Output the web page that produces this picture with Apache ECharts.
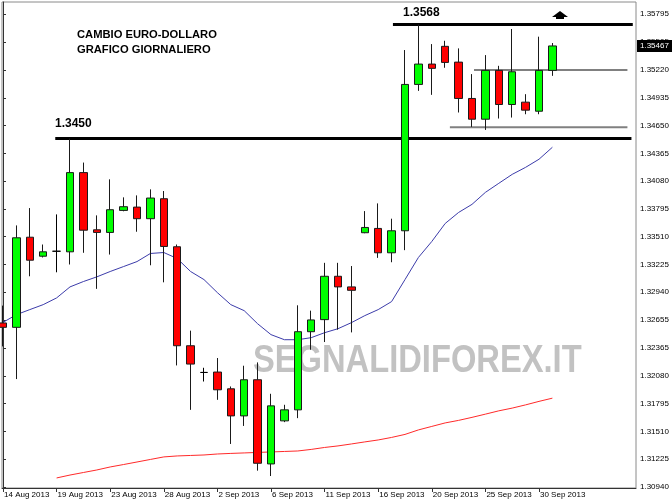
<!DOCTYPE html>
<html>
<head>
<meta charset="utf-8">
<script src="https://cdn.jsdelivr.net/npm/echarts@6/dist/echarts.min.js"></script>
<style>html,body{margin:0;padding:0;background:#fff;}#c{width:672px;height:504px;}</style>
</head>
<body>
<div id="c"></div>
<script>
const dates = ['14 Aug 2013','15 Aug 2013','16 Aug 2013','18 Aug 2013','19 Aug 2013','20 Aug 2013','21 Aug 2013','22 Aug 2013','23 Aug 2013','25 Aug 2013','26 Aug 2013','27 Aug 2013','28 Aug 2013','29 Aug 2013','30 Aug 2013','1 Sep 2013','2 Sep 2013','3 Sep 2013','4 Sep 2013','5 Sep 2013','6 Sep 2013','8 Sep 2013','9 Sep 2013','10 Sep 2013','11 Sep 2013','12 Sep 2013','13 Sep 2013','15 Sep 2013','16 Sep 2013','17 Sep 2013','18 Sep 2013','19 Sep 2013','20 Sep 2013','22 Sep 2013','23 Sep 2013','24 Sep 2013','25 Sep 2013','26 Sep 2013','27 Sep 2013','29 Sep 2013','30 Sep 2013','1 Oct 2013'];
const opens  = [1.32624,1.32579,1.33504,1.33309,1.33360,1.33354,1.34167,1.33580,1.33553,1.33779,1.33813,1.33694,1.33899,1.33406,1.32390,1.32116,1.32120,1.31948,1.31670,1.32041,1.31177,1.31619,1.31732,1.32534,1.32658,1.33103,1.32994,1.33550,1.33594,1.33344,1.33570,1.35072,1.35281,1.35463,1.35301,1.34928,1.34715,1.35216,1.34866,1.34890,1.34797,1.35216];
const closes = [1.32579,1.33498,1.33268,1.33354,1.33360,1.34167,1.33576,1.33553,1.33786,1.33817,1.33694,1.33906,1.33409,1.32390,1.32202,1.32116,1.31938,1.31670,1.32041,1.31184,1.31773,1.31732,1.32534,1.32655,1.33103,1.32994,1.32959,1.33604,1.33344,1.33570,1.35072,1.35281,1.35237,1.35298,1.34928,1.34715,1.35216,1.34866,1.35202,1.34808,1.35216,1.35467];
const lows   = [1.32383,1.32048,1.33103,1.33296,1.33144,1.33224,1.33344,1.32974,1.33326,1.33770,1.33560,1.33216,1.33041,1.32188,1.31732,1.32023,1.31835,1.31382,1.31567,1.31108,1.31053,1.31606,1.31647,1.32349,1.32428,1.32555,1.32527,1.33545,1.33292,1.33247,1.33371,1.35006,1.34965,1.35243,1.34784,1.34636,1.34605,1.34722,1.34732,1.34766,1.34766,1.35160];
const highs  = [1.32802,1.33625,1.33803,1.33429,1.33738,1.34516,1.34270,1.33728,1.34098,1.33913,1.33933,1.33995,1.33978,1.33429,1.32545,1.32164,1.32264,1.31972,1.32185,1.32219,1.31897,1.31784,1.32805,1.32750,1.33241,1.33241,1.33208,1.33772,1.33851,1.33694,1.35425,1.35687,1.35486,1.35520,1.35442,1.35178,1.35373,1.35263,1.35641,1.34972,1.35562,1.35497];
const maFast = [1.32630,1.32709,1.32761,1.32812,1.32881,1.32994,1.33049,1.33097,1.33152,1.33203,1.33254,1.33337,1.33347,1.33285,1.33152,1.33069,1.32935,1.32812,1.32750,1.32616,1.32504,1.32452,1.32452,1.32473,1.32524,1.32565,1.32627,1.32699,1.32761,1.32843,1.33069,1.33296,1.33460,1.33645,1.33758,1.33841,1.33964,1.34057,1.34149,1.34221,1.34304,1.34427];
const maSlow = [null,null,null,null,1.31033,1.31063,1.31089,1.31115,1.31146,1.31171,1.31197,1.31223,1.31249,1.31259,1.31264,1.31269,1.31279,1.31285,1.31290,1.31295,1.31300,1.31305,1.31310,1.31326,1.31346,1.31362,1.31382,1.31403,1.31423,1.31449,1.31480,1.31526,1.31562,1.31598,1.31624,1.31655,1.31688,1.31722,1.31750,1.31783,1.31819,1.31852];
const yTickLabels = [1.30940,1.31225,1.31510,1.31795,1.32080,1.32365,1.32655,1.32940,1.33225,1.33510,1.33795,1.34080,1.34365,1.34650,1.34935,1.35220,1.35505,1.35795];
const xTickLabels = ['14 Aug 2013','19 Aug 2013','23 Aug 2013','28 Aug 2013','2 Sep 2013','6 Sep 2013','11 Sep 2013','16 Sep 2013','20 Sep 2013','25 Sep 2013','30 Sep 2013'];
// horizontal levels: price, from bar, to bar
const levelPrices = [1.35687, 1.34518, 1.35220, 1.34633];
const levelFrom   = [29.1, 3.9, 35.15, 33.35];
const levelTo     = [47.0, 46.9, 46.6, 46.6];
const lastPrice = 1.35467;

const xTickIdx = xTickLabels.map(l => dates.indexOf(l));
const candleData = dates.map((d, i) => [i, opens[i], closes[i], lows[i], highs[i]]);
const levelStyles = [
  {color:'#000', width:3}, {color:'#000', width:3},
  {color:'#808080', width:2}, {color:'#808080', width:2}
];
const levelSeries = levelPrices.map((p, k) => ({
  type:'line', silent:true, symbol:'none', z:3,
  lineStyle: levelStyles[k],
  data: [[levelFrom[k], p], [levelTo[k], p]]
}));

const chart = echarts.init(document.getElementById('c'), null, {renderer:'canvas'});
const font = 'Liberation Sans';
chart.setOption({
  animation:false,
  backgroundColor:'#fff',
  grid:{left:2, right:36, top:2, bottom:16, show:true, borderColor:'#8a8a8a', borderWidth:1},
  xAxis:{
    type:'value', min:-0.075, max:47.24,
    splitLine:{show:false},
    axisLine:{onZero:false, lineStyle:{color:'#333', width:1}},
    axisTick:{show:true, customValues:xTickIdx, length:4, lineStyle:{color:'#333'}},
    axisLabel:{customValues:xTickIdx, formatter:(v)=>dates[Math.round(v)], align:'left', margin:3, fontSize:8, fontFamily:font, color:'#000', padding:[0,0,0,1]}
  },
  yAxis:{
    type:'value', position:'right', min:1.30930, max:1.35918, scale:true,
    splitLine:{show:false},
    axisLine:{show:true, lineStyle:{color:'#333', width:1}},
    axisTick:{show:true, customValues:yTickLabels, length:3, lineStyle:{color:'#333'}},
    axisLabel:{customValues:yTickLabels, formatter:(v)=>v.toFixed(5), margin:4, fontSize:8, fontFamily:font, color:'#000'}
  },
  series:[
    {type:'line', name:'MA fast', data:dates.map((d,i)=>[i, maFast[i]]), symbol:'none', z:2, lineStyle:{color:'#3c3caa', width:1}},
    {type:'line', name:'MA slow', data:dates.map((d,i)=>[i, maSlow[i]]), symbol:'none', z:2, connectNulls:false, lineStyle:{color:'#ff2a2a', width:1}},
    ...levelSeries,
    {type:'candlestick', data:candleData, barWidth:8, z:4,
     itemStyle:{color:'#00ff00', color0:'#ff0000', borderColor:'#1a1a1a', borderColor0:'#1a1a1a', borderColorDoji:'#000', borderWidth:1}}
  ]
});

const py = chart.convertToPixel({yAxisIndex:0}, lastPrice);
chart.setOption({
  graphic:[
    {type:'text', x:253, y:362, scaleX:0.86, z:0, silent:true,
     style:{text:'SEGNALIDIFOREX.IT', font:'bold 38px "Liberation Sans"', fill:'#c2c2c2', textVerticalAlign:'middle'}},
    {type:'text', x:77, y:35, z:10, style:{text:'CAMBIO EURO-DOLLARO', font:'bold 11.2px "Liberation Sans"', fill:'#000', textVerticalAlign:'middle'}},
    {type:'text', x:77, y:50, z:10, style:{text:'GRAFICO GIORNALIERO', font:'bold 11.2px "Liberation Sans"', fill:'#000', textVerticalAlign:'middle'}},
    {type:'text', x:55, y:124, z:10, style:{text:'1.3450', font:'bold 12px "Liberation Sans"', fill:'#000', textVerticalAlign:'middle'}},
    {type:'text', x:403, y:13, z:10, style:{text:'1.3568', font:'bold 12px "Liberation Sans"', fill:'#000', textVerticalAlign:'middle'}},
    {type:'polygon', z:10, shape:{points:[[560,11],[552,17],[556,17],[556,19],[564,19],[564,17],[568,17]]}, style:{fill:'#000'}},
    {type:'rect', z:20, shape:{x:637, y:py-6, width:35, height:12}, style:{fill:'#000'}},
    {type:'text', x:640, y:py, z:21, style:{text:lastPrice.toFixed(5), font:'8px "Liberation Sans"', fill:'#fff', textVerticalAlign:'middle'}}
  ]
});
</script>
</body>
</html>
